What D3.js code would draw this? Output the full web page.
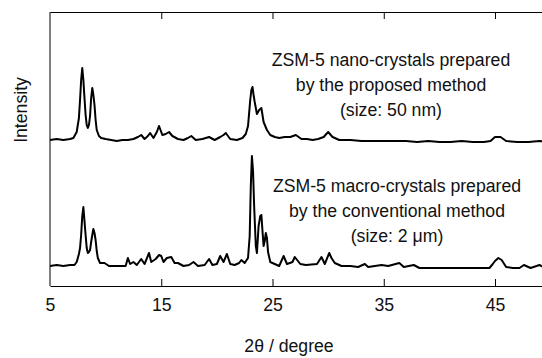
<!DOCTYPE html>
<html>
<head>
<meta charset="utf-8">
<script src="https://cdn.jsdelivr.net/npm/d3@7"></script>
<style>
  body { margin: 0; background: #fff; }
  svg text { font-family: "Liberation Sans", Arial, sans-serif; fill: #111; }
</style>
</head>
<body>
<svg width="542" height="358"></svg>
<script>
var svg = d3.select("svg"),
    width = +svg.attr("width"),
    height = +svg.attr("height");

// 2theta ticks
var xTicks = [5, 15, 25, 35, 45];

// nano-crystals trace (2theta, intensity a.u.)
var nanoTheta = [5.0,5.6,6.2,6.8,7.1,7.4,7.6,7.7,7.8,7.9,8.0,8.1,8.2,8.3,8.4,8.5,8.6,8.7,8.8,8.9,9.0,9.1,9.2,9.4,9.6,10.0,10.5,11.0,11.5,12.0,12.5,12.9,13.2,13.5,13.8,14.0,14.3,14.6,14.8,15.1,15.4,15.7,16.0,16.5,17.0,17.4,17.7,18.1,18.7,19.3,19.8,20.3,20.6,20.8,21.2,21.8,22.3,22.6,22.8,23.0,23.1,23.2,23.3,23.4,23.6,23.8,24.0,24.1,24.2,24.5,24.8,25.2,25.6,26.1,26.6,27.1,27.6,28.1,28.6,29.1,29.6,30.0,30.4,31.0,32.0,33.0,34.0,35.0,36.0,37.0,38.0,39.0,40.0,41.0,42.0,43.0,44.0,44.6,45.0,45.5,46.0,47.0,48.0,49.0,50.0,51.0];
var nanoInt = [0,1,0,1,2,8,22,40,60,72,60,42,25,15,12,15,24,42,52,45,35,20,10,4,2,1,0,-1,0,0,1,3,5,1,4,7,2,8,14,5,6,8,4,1,0,2,4,0,1,3,0,3,5,7,1,0,2,6,14,40,50,53,45,38,26,30,32,25,18,10,5,3,2,3,3,5,1,1,0,1,3,8,3,0,0,-1,-1,-1,-1,-1,-2,-1,-2,-2,-1,-2,-2,-1,3,3,-1,-2,-2,-1,-2,-2];

// macro-crystals trace (2theta, intensity a.u.)
var macroTheta = [5.0,5.6,6.2,6.8,7.2,7.4,7.6,7.7,7.8,7.9,8.0,8.1,8.2,8.3,8.4,8.5,8.6,8.7,8.8,8.9,9.0,9.1,9.2,9.3,9.5,9.9,10.3,11.0,11.8,12.0,12.2,12.5,12.8,13.2,13.5,13.9,14.1,14.5,14.8,15.0,15.2,15.5,15.9,16.2,16.5,17.0,17.5,17.9,18.3,18.9,19.3,19.6,20.0,20.3,20.6,20.9,21.2,21.6,22.0,22.2,22.5,22.8,22.95,23.05,23.15,23.25,23.35,23.5,23.6,23.75,23.9,24.0,24.1,24.2,24.3,24.4,24.5,24.6,24.8,25.2,25.6,26.0,26.3,26.8,27.0,27.5,28.0,29.0,29.4,29.7,30.1,30.3,30.6,31.2,32.0,32.7,33.3,33.6,34.8,35.4,36.4,36.8,37.7,38.2,39.0,40.0,41.0,42.0,43.0,44.5,44.8,45.0,45.3,45.6,46.0,46.6,47.2,47.6,48.2,49.0,49.5,50.5,51.0];
var macroInt = [0,1,0,1,1,4,12,18,31,50,59,45,31,18,13,14,16,24,31,37,33,26,15,8,3,3,0,0,0,8,2,4,1,7,2,13,4,7,11,10,4,8,9,3,3,0,1,4,0,1,7,1,2,10,4,12,2,1,3,6,3,8,30,80,110,95,60,20,13,40,50,51,35,20,25,33,28,14,4,2,0,10,2,4,9,2,1,2,9,2,13,8,3,0,0,-1,2,-1,1,0,3,-1,1,-2,-2,-2,-2,-2,-2,-2,2,5,8,6,-1,-2,-2,1,-2,1,-2,-1,-1];

var traces = [
  { name: "nano", theta: nanoTheta, inten: nanoInt, offset: 126 },
  { name: "macro", theta: macroTheta, inten: macroInt, offset: 0 }
];

var mLeft = 50, mRight = 542, mTop = 12, mBottom = 286;
var narrow = "scale(0.93,1)";
var fs = "19px";

var x = d3.scaleLinear().domain([5, 45]).range([mLeft, 495]);
var y = d3.scaleLinear().domain([-20, 254]).range([mBottom, mTop]);

svg.append("clipPath")
    .attr("id", "plot-clip")
  .append("rect")
    .attr("x", mLeft).attr("y", mTop)
    .attr("width", mRight - mLeft).attr("height", mBottom - mTop);

// traces
var line = d3.line()
    .x(function(d) { return x(d[0]); })
    .y(function(d) { return y(d[1]); });

svg.append("g")
    .attr("class", "traces")
    .attr("clip-path", "url(#plot-clip)")
  .selectAll("path")
  .data(traces)
  .enter().append("path")
    .attr("fill", "none")
    .attr("stroke", "#000")
    .attr("stroke-width", 2)
    .attr("stroke-linejoin", "round")
    .attr("d", function(t) {
      return line(t.theta.map(function(th, i) { return [th, t.inten[i] + t.offset]; }));
    });

// frame: x axis runs off the right edge of the picture
var xFrame = x.copy().domain([5, x.invert(mRight)]).range([mLeft, mRight]);

svg.append("g")
    .attr("transform", "translate(0," + mBottom + ")")
    .call(d3.axisBottom(xFrame).tickValues(xTicks).tickSizeInner(-7).tickSizeOuter(0).tickPadding(12))
    .call(function(g) {
      g.attr("font-family", null).attr("font-size", null);
      g.selectAll("text").style("font-size", fs).attr("transform", narrow);
      g.selectAll(".tick").filter(function(d) { return d === 5; }).select("line").remove();
    });

svg.append("g")
    .attr("transform", "translate(0," + mTop + ")")
    .call(d3.axisTop(xFrame).tickValues(xTicks.slice(1)).tickSizeInner(-7).tickSizeOuter(0).tickFormat(""));

svg.append("line")
    .attr("x1", mLeft).attr("x2", mLeft)
    .attr("y1", mTop).attr("y2", mBottom)
    .attr("stroke", "#000");

svg.selectAll(".domain").attr("stroke", "#000");
svg.selectAll(".tick line").attr("stroke", "#000");

// labels
svg.append("text")
    .attr("transform", "translate(27,110) rotate(-90) " + narrow)
    .attr("text-anchor", "middle")
    .style("font-size", fs)
    .text("Intensity");

svg.append("text")
    .attr("transform", "translate(289,352) " + narrow)
    .attr("text-anchor", "middle")
    .style("font-size", fs)
    .text("2\u03b8 / degree");

var notes = [
  { cx: 391, y0: 66, lines: ["ZSM-5 nano-crystals prepared", "by the proposed method", "(size: 50 nm)"] },
  { cx: 397, y0: 192, lines: ["ZSM-5 macro-crystals prepared", "by the conventional method", "(size: 2 \u03bcm)"] }
];

notes.forEach(function(n) {
  n.lines.forEach(function(s, i) {
    svg.append("text")
        .attr("transform", "translate(" + n.cx + "," + (n.y0 + i * 25) + ") " + narrow)
        .attr("text-anchor", "middle")
        .style("font-size", fs)
        .text(s);
  });
});
</script>
</body>
</html>
